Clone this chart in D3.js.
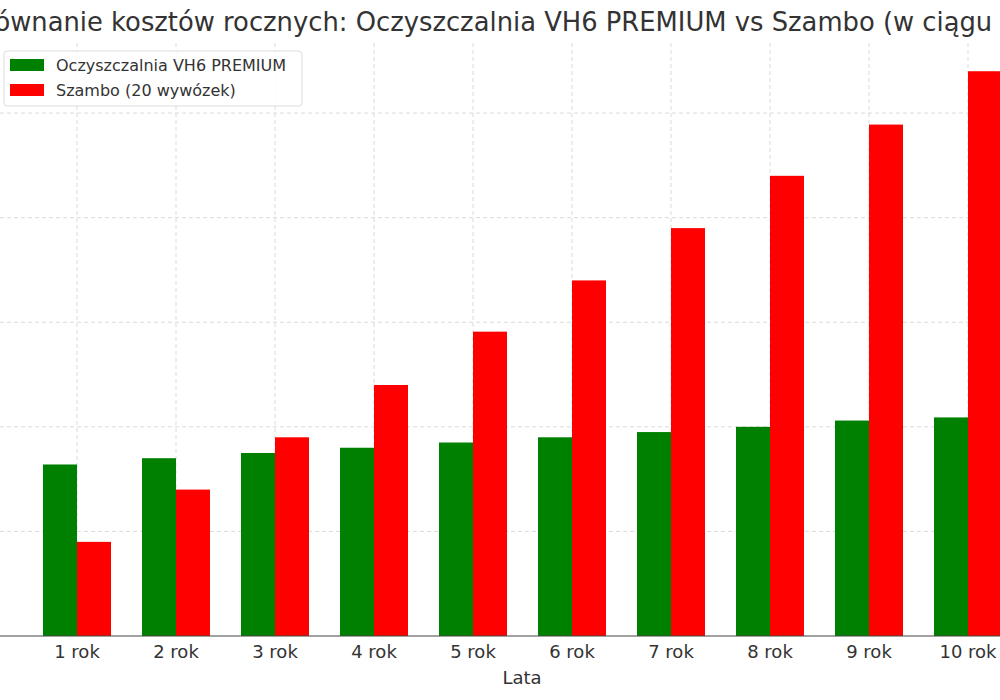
<!DOCTYPE html>
<html>
<head>
<meta charset="utf-8">
<script src="https://d3js.org/d3.v7.min.js"></script>
<style>
body { margin: 0; background: #fff; }
text { font-family: 'DejaVu Sans', sans-serif; fill: #333; }
</style>
</head>
<body>
<svg id="chart" width="1000" height="700"></svg>
<script>
var years = ['1 rok','2 rok','3 rok','4 rok','5 rok','6 rok','7 rok','8 rok','9 rok','10 rok'];
var oczyszczalnia = [16400, 17000, 17500, 18000, 18500, 19000, 19500, 20000, 20600, 20900];
var szambo = [9000, 14000, 19000, 24000, 29100, 34000, 39000, 44000, 48900, 54000];
var yTicks = [0, 10000, 20000, 30000, 40000, 50000];

var svg = d3.select('#chart');
var plotTop = 43, plotBottom = 636;

// group centers: 77 + 99*i
var x = d3.scaleLinear().domain([0, 9]).range([77, 968]);
var bw = 34;
var y = d3.scaleLinear().domain([0, 56700]).range([plotBottom, plotTop]);

// grid
svg.append('g').selectAll('line').data(yTicks.slice(1)).enter().append('line')
  .attr('x1', 0).attr('x2', 1000)
  .attr('y1', function(d){ return y(d); }).attr('y2', function(d){ return y(d); })
  .attr('stroke', '#d0d0d0').attr('stroke-dasharray', '4,3').attr('stroke-width', 0.8);
svg.append('g').selectAll('line').data(years).enter().append('line')
  .attr('x1', function(d,i){ return x(i); }).attr('x2', function(d,i){ return x(i); })
  .attr('y1', plotTop).attr('y2', plotBottom)
  .attr('stroke', '#d0d0d0').attr('stroke-dasharray', '4,3').attr('stroke-width', 0.8);

// bars
svg.append('g').selectAll('rect').data(oczyszczalnia).enter().append('rect')
  .attr('x', function(d,i){ return x(i) - bw; }).attr('width', bw)
  .attr('y', function(d){ return y(d); }).attr('height', function(d){ return plotBottom - y(d); })
  .attr('fill', '#008000');
svg.append('g').selectAll('rect').data(szambo).enter().append('rect')
  .attr('x', function(d,i){ return x(i); }).attr('width', bw)
  .attr('y', function(d){ return y(d); }).attr('height', function(d){ return plotBottom - y(d); })
  .attr('fill', '#ff0000');

// x axis
svg.append('line').attr('x1', 0).attr('x2', 1000).attr('y1', plotBottom).attr('y2', plotBottom)
  .attr('stroke', '#444').attr('stroke-width', 1.2);
svg.append('g').selectAll('text').data(years).enter().append('text')
  .attr('x', function(d,i){ return x(i); }).attr('y', 658)
  .attr('text-anchor', 'middle').attr('font-size', 18).text(function(d){ return d; });
svg.append('text').attr('x', 522).attr('y', 684).attr('text-anchor', 'middle')
  .attr('font-size', 18).text('Lata');

// title
svg.append('text').attr('x', -46).attr('y', 31).attr('font-size', 25.8)
  .text('Porównanie kosztów rocznych: Oczyszczalnia VH6 PREMIUM vs Szambo (w ciągu 10 lat)');

// legend
var lg = svg.append('g').attr('transform', 'translate(4,51)');
lg.append('rect').attr('width', 298).attr('height', 55).attr('rx', 3)
  .attr('fill', '#fff').attr('fill-opacity', 0.85).attr('stroke', '#ddd');
var items = [['Oczyszczalnia VH6 PREMIUM', '#008000'], ['Szambo (20 wywózek)', '#ff0000']];
items.forEach(function(it, i){
  lg.append('rect').attr('x', 6).attr('y', 8 + i*25).attr('width', 34).attr('height', 12).attr('fill', it[1]);
  lg.append('text').attr('x', 52).attr('y', 20 + i*25).attr('font-size', 16).text(it[0]);
});
</script>
</body>
</html>
